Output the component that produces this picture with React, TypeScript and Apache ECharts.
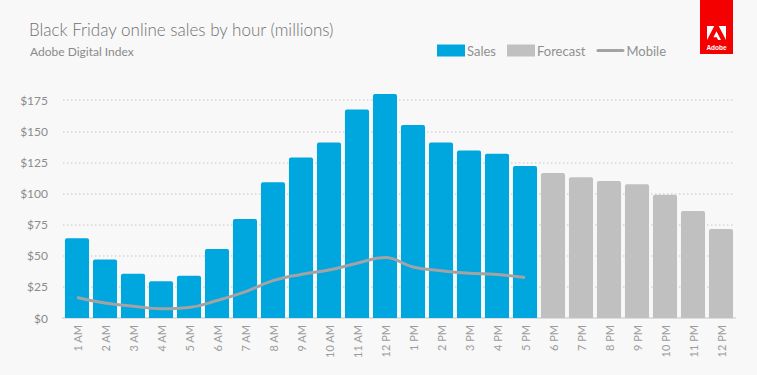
import React, { useEffect, useRef } from "react";
import * as echarts from "echarts";

const categories = [
  "1 AM", "2 AM", "3 AM", "4 AM", "5 AM", "6 AM", "7 AM", "8 AM", "9 AM", "10 AM", "11 AM", "12 PM",
  "1 PM", "2 PM", "3 PM", "4 PM", "5 PM", "6 PM", "7 PM", "8 PM", "9 PM", "10 PM", "11 PM", "12 PM",
];
const salesValues = [64, 47, 35.5, 29.5, 34, 55.5, 79.5, 109, 129, 141, 167.5, 180, 155, 141, 134.5, 132, 122];
const forecastValues = [116.5, 113, 110, 107.5, 99, 86, 71.5];
const mobileValues = [16.5, 12, 9.5, 7.5, 8.5, 14, 21, 30, 35, 38.5, 44, 48.5, 41, 38, 36, 35, 32.5];
const yTicks = [0, 25, 50, 75, 100, 125, 150, 175];

const FONT = "Lato, 'Open Sans', sans-serif";

export default function App() {
  const ref = useRef<HTMLDivElement>(null);
  useEffect(() => {
    if (!ref.current) return;
    const chart = echarts.init(ref.current, null, { renderer: "svg" });
    const sales = categories.map((_, i) => (i < salesValues.length ? salesValues[i] : "-"));
    const forecast = categories.map((_, i) =>
      i >= salesValues.length ? forecastValues[i - salesValues.length] : "-"
    );
    const mobile = categories.map((_, i) => (i < mobileValues.length ? mobileValues[i] : "-"));
    chart.setOption({
      animation: false,
      backgroundColor: "#f8f8f8",
      textStyle: { fontFamily: FONT },
      title: [
        {
          text: "Black Friday online sales by hour (millions)",
          left: 24,
          top: 16,
          textStyle: { fontSize: 17, fontWeight: 300, color: "#707070", fontFamily: FONT },
        },
        {
          text: "Adobe Digital Index",
          left: 25,
          top: 40,
          textStyle: { fontSize: 12, fontWeight: 400, color: "#8a8a8a", fontFamily: FONT },
        },
      ],
      legend: {
        left: 437,
        top: 44,
        padding: 0,
        itemWidth: 28,
        itemHeight: 12,
        itemGap: 11,
        symbolKeepAspect: true,
        textStyle: { fontSize: 13, fontWeight: 400, color: "#909090", fontFamily: FONT, padding: [0, 0, 0, -3] },
        data: [
          { name: "Sales", icon: "rect" },
          { name: "Forecast", icon: "rect" },
          { name: "Mobile", icon: "path://M1.5,0 H26.5 A1.5,1.5 0 0 1 26.5,3 H1.5 A1.5,1.5 0 0 1 1.5,0 Z" },
        ],
      },
      grid: { left: 63, right: 22, top: 69, bottom: 57 },
      xAxis: {
        type: "category",
        data: categories,
        axisTick: { show: false },
        axisLine: { lineStyle: { color: "#dedede", width: 2 } },
        axisLabel: {
          interval: 0,
          rotate: 90,
          margin: 7,
          fontSize: 11,
          fontWeight: 400,
          color: "#9c9c9c",
          fontFamily: FONT,
        },
      },
      yAxis: {
        type: "value",
        min: 0,
        max: 200,
        interval: 25,
        axisLine: { show: false },
        axisTick: { show: false },
        axisLabel: {
          showMaxLabel: false,
          margin: 15,
          fontSize: 12,
          fontWeight: 400,
          color: "#8c8c8c",
          fontFamily: FONT,
          formatter: (v: number) => (yTicks.includes(v) ? "$" + v : ""),
        },
        splitLine: {
          showMaxLine: false,
          showMinLine: false,
          lineStyle: { color: "#d6d6d6", width: 1.5, type: [1.5, 2.5] },
        },
      },
      series: [
        {
          name: "Sales",
          type: "bar",
          stack: "all",
          data: sales,
          barCategoryGap: "14%",
          itemStyle: { color: "#00a6de", borderRadius: [2, 2, 0, 0] },
        },
        {
          name: "Forecast",
          type: "bar",
          stack: "all",
          data: forecast,
          barCategoryGap: "14%",
          itemStyle: { color: "#c0c0c0", borderRadius: [2, 2, 0, 0] },
        },
        {
          name: "Mobile",
          type: "line",
          data: mobile,
          smooth: 0.45,
          symbol: "none",
          z: 5,
          lineStyle: { color: "#a3a3a3", width: 3 },
          itemStyle: { color: "#a3a3a3" },
        },
      ],
      graphic: [
        {
          type: "group",
          left: 700,
          top: 0,
          children: [
            { type: "rect", shape: { x: 0, y: 0, width: 33, height: 54 }, style: { fill: "#f50000" } },
            {
              type: "group",
              x: 7,
              y: 26,
              scaleX: 19 / 30,
              scaleY: 14 / 26,
              children: [
                { type: "polygon", shape: { points: [[0, 0], [11.5, 0], [0, 26]] }, style: { fill: "#ffffff" } },
                { type: "polygon", shape: { points: [[18.5, 0], [30, 0], [30, 26]] }, style: { fill: "#ffffff" } },
                {
                  type: "polygon",
                  shape: { points: [[15, 9.6], [22.1, 26], [17.5, 26], [15.3, 20.7], [10.1, 20.7]] },
                  style: { fill: "#ffffff" },
                },
              ],
            },
            {
              type: "text",
              x: 16.5,
              y: 47.5,
              style: {
                text: "Adobe",
                fill: "#ffffff",
                fontSize: 6.5,
                fontWeight: "bold",
                fontFamily: "'Liberation Sans', Arial, sans-serif",
                align: "center",
                verticalAlign: "middle",
              },
            },
          ],
        },
      ],
    });
    return () => chart.dispose();
  }, []);
  return (
    <div
      ref={ref}
      style={{ position: "absolute", left: 0, top: 0, width: 757, height: 375 }}
    />
  );
}
